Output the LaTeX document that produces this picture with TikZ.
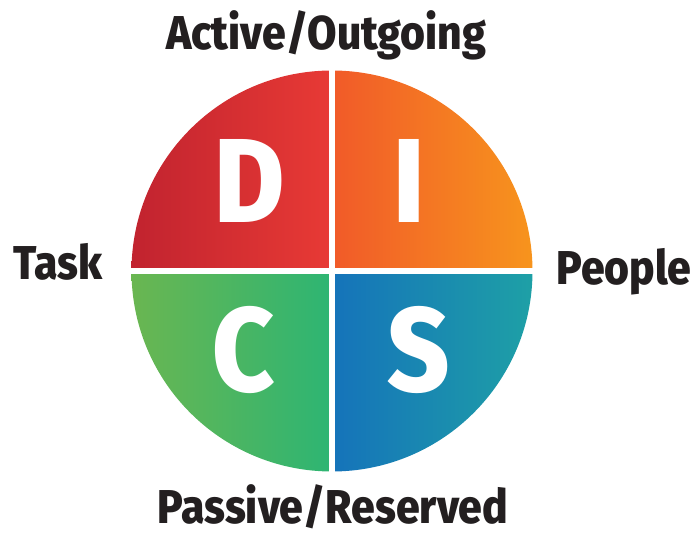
\documentclass[tikz,border=0pt]{standalone}
\usepackage{fontspec}
\setmainfont[FakeStretch=0.9, BoldFont={Fira Sans ExtraBold}]{Fira Sans}
\usepackage{tikz}
\usetikzlibrary{positioning}

\definecolor{dleft}{HTML}{C1232F}
\definecolor{dright}{HTML}{E83A35}
\definecolor{ileft}{HTML}{F15A29}
\definecolor{iright}{HTML}{F7941D}
\definecolor{cleft}{HTML}{6AB651}
\definecolor{cright}{HTML}{2DB573}
\definecolor{sleft}{HTML}{1573BA}
\definecolor{sright}{HTML}{1EA0A6}
\definecolor{labelink}{HTML}{231F20}

\begin{document}
\begin{tikzpicture}[
            x = 0.02cm, y = 0.02cm, % one unit is one pixel
            letter/.style = {text = white, font = \fontsize{68}{68}\selectfont\bfseries, inner sep = 0pt, anchor = base},
            axislabel/.style = {text = labelink, font = \fontsize{27}{27}\selectfont\bfseries, inner sep = 0pt, anchor = base}
        ]
        \useasboundingbox (0,0) rectangle (691,534);

        \coordinate (o) at (332,263);
        \def\rad{200.5}

        % Quadrants
        \shade[left color = dleft, right color = dright] (o) -- ++(-\rad,0) arc (180:90:\rad) -- cycle;
        \shade[left color = ileft, right color = iright] (o) -- ++(\rad,0) arc (0:90:\rad) -- cycle;
        \shade[left color = cleft, right color = cright] (o) -- ++(-\rad,0) arc (180:270:\rad) -- cycle;
        \shade[left color = sleft, right color = sright] (o) -- ++(\rad,0) arc (360:270:\rad) -- cycle;

        % white cross
        \coordinate (top) at (332,466);
        \coordinate (bottom) at (332,60);
        \coordinate (left) at (128,263);
        \coordinate (right) at (536,263);
        \draw[white, line width = 3] (top) -- (bottom);
        \draw[white, line width = 3] (left) -- (right);

        % Letters
        \node[letter] (d) at (250,311) {D};
        \node[letter] (i) at (409,311) {I};
        \node[letter] (c) at (244,142) {C};
        \node[letter] (s) at (419,142) {S};

        % Labels
        \node[axislabel] (active) at (326,484) {Active/Outgoing};
        \node[axislabel] (passive) at (333,10) {Passive/Reserved};
        \node[axislabel] (task) at (58,254) {Task};
        \node[axislabel] (people) at (624,249) {People};

\end{tikzpicture}
\end{document}
